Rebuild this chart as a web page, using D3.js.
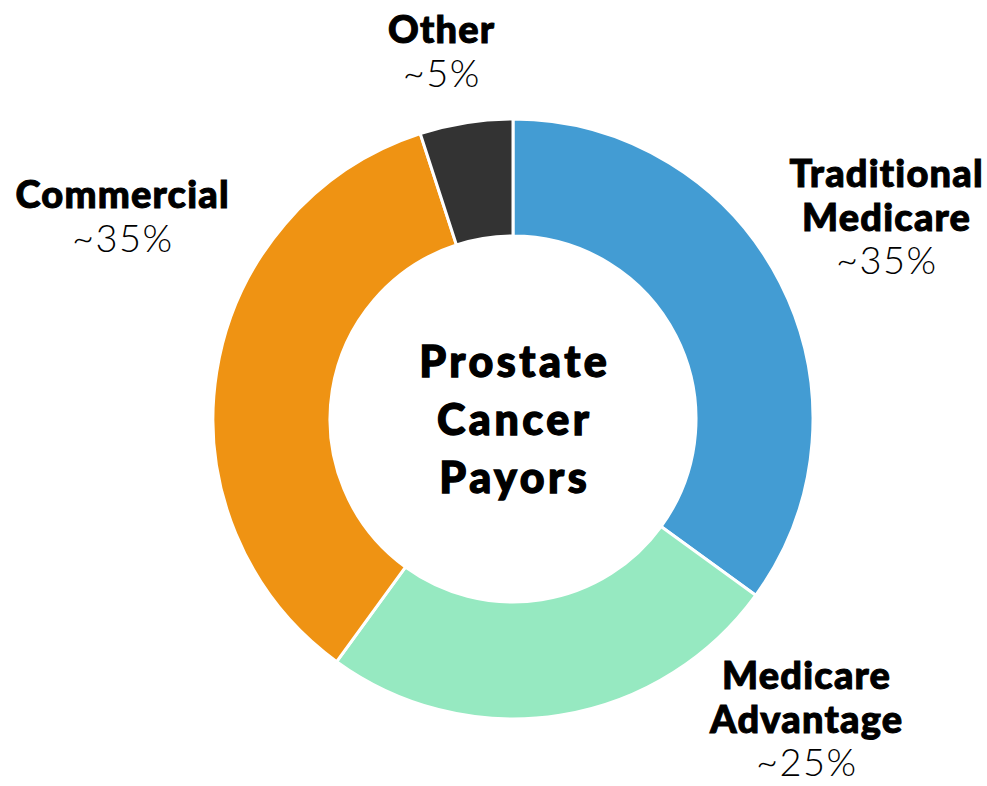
<!DOCTYPE html>
<html>
<head>
<meta charset="utf-8">
<script src="https://cdn.jsdelivr.net/npm/d3@7"></script>
<style>
  body { margin: 0; background: #fff; }
  text { font-family: "Lato", "Noto Sans", sans-serif; fill: #000; }
</style>
</head>
<body>
<script>
var payors = ["Traditional Medicare", "Medicare Advantage", "Commercial", "Other"];
var shares = [35, 25, 35, 5];
var shareLabels = ["~35%", "~25%", "~35%", "~5%"];
var nameLines = [["Traditional", "Medicare"], ["Medicare", "Advantage"], ["Commercial"], ["Other"]];
var colors = ["#439cd3", "#96e9c1", "#ef9313", "#333333"];
var centerTitle = ["Prostate", "Cancer", "Payors"];

// where each label block sits (first baseline), not data
var labelPos = [[886, 187], [806, 689], [122, 208], [441, 43]];

var width = 987, height = 786;
var cx = 513, cy = 419, outerR = 300, innerR = 183;

var svg = d3.select("body")
  .append("svg")
  .attr("width", width)
  .attr("height", height);

var pie = d3.pie().sort(null).value(function(d){ return d; });
var arc = d3.arc().innerRadius(innerR).outerRadius(outerR);

var g = svg.append("g").attr("transform", "translate(" + cx + "," + cy + ")");

g.selectAll("path")
  .data(pie(shares))
  .enter()
  .append("path")
  .attr("d", arc)
  .style("fill", function(d, i){ return colors[i]; })
  .style("stroke", "#fff")
  .style("stroke-width", 3);

// center title
var titleLs = 3.5;
svg.append("text")
  .attr("text-anchor", "middle")
  .style("font-size", "43px")
  .style("font-weight", 900)
  .style("letter-spacing", titleLs + "px")
  .style("stroke", "#000")
  .style("stroke-width", 1.3)
  .selectAll("tspan")
  .data(centerTitle)
  .enter()
  .append("tspan")
  .attr("x", cx + titleLs / 2)
  .attr("y", function(d, i){ return 377 + i * 58; })
  .text(function(d){ return d; });

// slice labels
var lineH = 43.5;
payors.forEach(function(p, i){
  var t = svg.append("text")
    .attr("text-anchor", "middle");
  nameLines[i].forEach(function(line, j){
    t.append("tspan")
      .attr("x", labelPos[i][0] + 0.6)
      .attr("y", labelPos[i][1] + j * lineH)
      .style("font-size", "38px")
      .style("font-weight", 900)
      .style("letter-spacing", "1.2px")
      .style("stroke", "#000")
      .style("stroke-width", 1)
      .text(line);
  });
  t.append("tspan")
    .attr("x", labelPos[i][0] + 0.75)
    .attr("y", labelPos[i][1] + nameLines[i].length * lineH)
    .style("font-size", "38px")
    .style("font-weight", 300)
    .style("letter-spacing", "1.5px")
    .text(shareLabels[i]);
});
</script>
</body>
</html>
